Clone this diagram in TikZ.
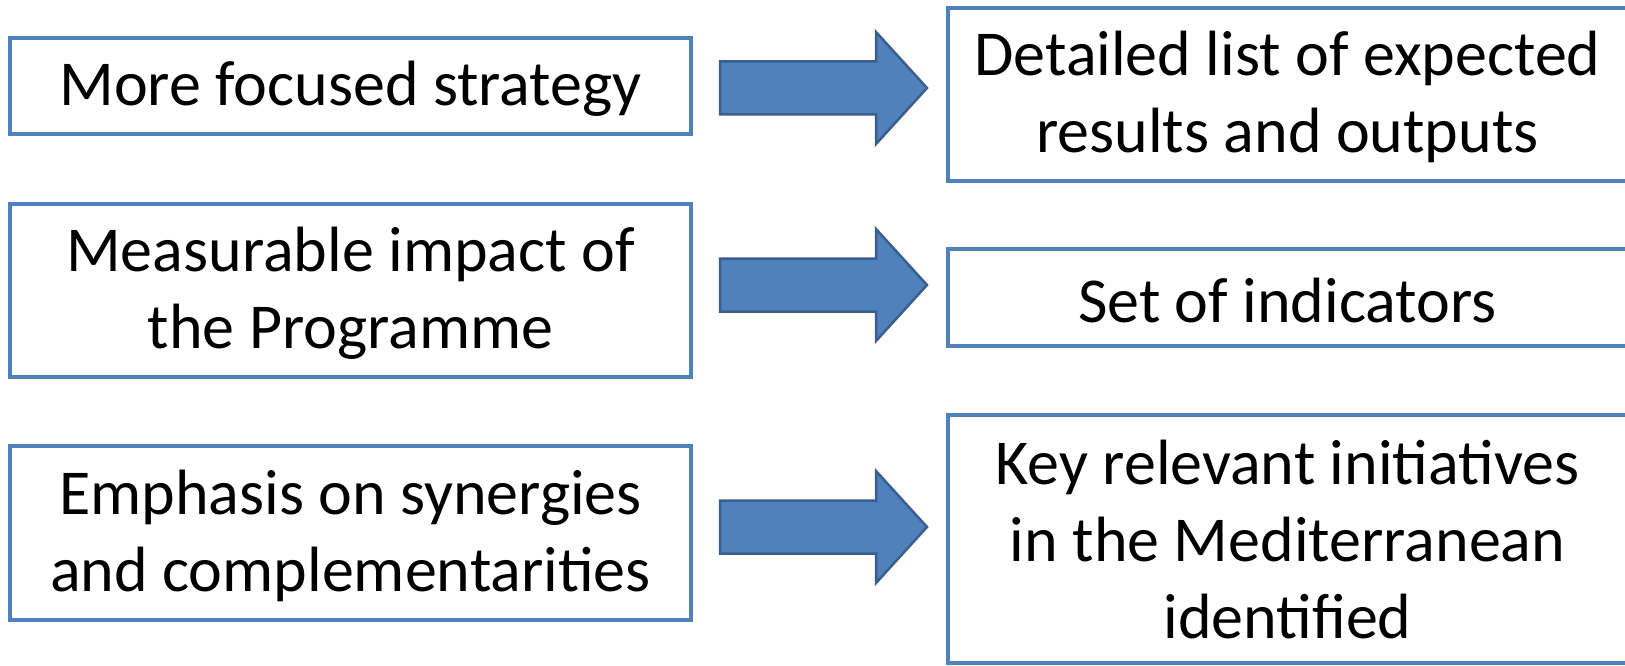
\documentclass[tikz,border=0pt]{standalone}
\usepackage{fontspec}
\setmainfont{Carlito}
\definecolor{boxblue}{HTML}{4F81BD}
\definecolor{arrowfill}{HTML}{4F81BD}
\definecolor{arrowedge}{HTML}{3A5F8E}
\begin{document}
\begin{tikzpicture}[x=1pt,y=-1pt,
  box/.style={draw=boxblue, line width=4.5pt, fill=white, inner sep=0pt},
  lbl/.style={inner sep=0pt, align=center, font=\fontsize{64}{77}\selectfont},
  arrowstyle/.style={draw=arrowedge, fill=arrowfill, line width=2.5pt, line join=miter},
  blockarr/.pic={
    \draw[arrowstyle] (0,-26.5) -- (156,-26.5) -- (156,-56) -- (207,0) -- (156,56) -- (156,26.5) -- (0,26.5) -- cycle;
  }]
\useasboundingbox[fill=white] (0,0) rectangle (1625,666);
% left boxes
\node[box, minimum width=681pt, minimum height=96pt] (l1) at (350.5,86) {};
\node[box, minimum width=681pt, minimum height=173pt] (l2) at (350.5,290.5) {};
\node[box, minimum width=681pt, minimum height=174pt] (l3) at (350.5,533) {};
% right boxes
\node[box, minimum width=679pt, minimum height=173pt] (r1) at (1287.5,94.5) {};
\node[box, minimum width=679pt, minimum height=97pt] (r2) at (1287.5,297.5) {};
\node[box, minimum width=679pt, minimum height=248pt] (r3) at (1287.5,539) {};
% labels
\node[lbl] (l1t) at ([yshift=-3pt]l1.center) {More focused strategy};
\node[lbl] (l2t) at ([yshift=-3pt]l2.center) {Measurable impact of\\the Programme};
\node[lbl] (l3t) at ([yshift=-3pt]l3.center) {Emphasis on synergies\\and complementarities};
\node[lbl] (r1t) at ([yshift=-2pt]r1.center) {Detailed list of expected\\results and outputs};
\node[lbl] (r2t) at ([yshift=-3pt]r2.center) {Set of indicators};
\node[lbl] (r3t) at ([yshift=-1pt]r3.center) {Key relevant initiatives\\in the Mediterranean\\identified};
% block arrows
\pic (a1) at (720,88) {blockarr};
\pic (a2) at (720,285) {blockarr};
\pic (a3) at (720,527) {blockarr};
\end{tikzpicture}
\end{document}
